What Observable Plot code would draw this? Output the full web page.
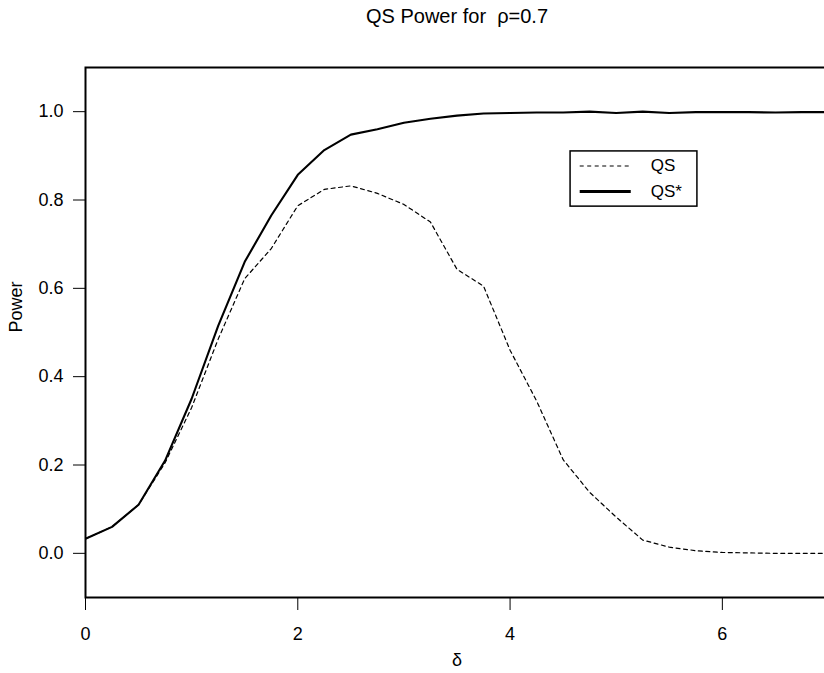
<!DOCTYPE html>
<html>
<head>
<meta charset="utf-8">
<script src="https://cdn.jsdelivr.net/npm/d3@7"></script>
<script src="https://cdn.jsdelivr.net/npm/@observablehq/plot@0.6"></script>
<style>
  html, body { margin: 0; padding: 0; background: white; overflow: hidden; }
  #chart svg { display: block; }
</style>
</head>
<body>
<div id="chart"></div>
<script>
// ---- data ----
const delta = [0, 0.25, 0.5, 0.75, 1, 1.25, 1.5, 1.75, 2, 2.25, 2.5, 2.75, 3, 3.25, 3.5,
               3.75, 4, 4.25, 4.5, 4.75, 5, 5.25, 5.5, 5.75, 6, 6.25, 6.5, 6.75, 7];
const qs = [0.033, 0.06, 0.11, 0.205, 0.33, 0.485, 0.622, 0.69, 0.787, 0.824, 0.832, 0.815,
            0.79, 0.75, 0.643, 0.605, 0.46, 0.345, 0.212, 0.138, 0.082, 0.03, 0.014, 0.006,
            0.002, 0.001, 0, 0, 0];
const qsStar = [0.033, 0.06, 0.11, 0.21, 0.35, 0.515, 0.66, 0.765, 0.857, 0.913, 0.948, 0.96,
                0.975, 0.984, 0.991, 0.996, 0.997, 0.998, 0.998, 1.0, 0.997, 1.0, 0.997, 0.999,
                0.999, 0.999, 0.998, 0.999, 0.999];
const seriesNames = ["QS", "QS*"];
const xTicks = [0, 2, 4, 6];
const yTicks = [0, 0.2, 0.4, 0.6, 0.8, 1.0];
const titleText = "QS Power for\u00a0 \u03c1=0.7";
const xLabel = "\u03b4";
const yLabel = "Power";

// table built from the arrays
const rowsQS = delta.map((d, i) => ({x: d, y: qs[i]}));
const rowsQSStar = delta.map((d, i) => ({x: d, y: qsStar[i]}));

// legend placement (data coordinates, like R's legend(x, y))
const legBox = [{x1: 4.57, x2: 5.765, y1: 0.785, y2: 0.91}];
const legRows = [
  {name: seriesNames[0], y: 0.877, dash: "4,3.5", w: 1.2},
  {name: seriesNames[1], y: 0.819, dash: null, w: 3}
];
const legX1 = 4.656, legX2 = 5.137, legTextX = 5.325;

const font = "'Liberation Sans', Arial, Helvetica, sans-serif";

const chart = Plot.plot({
  width: 824,
  height: 673,
  marginLeft: 85,
  marginRight: -4,
  marginTop: 67,
  marginBottom: 76,
  style: {fontFamily: font, fontSize: "18px", background: "white", color: "black", overflow: "hidden"},
  x: {domain: [0, 7], range: [85, 828]},
  y: {domain: [-0.1, 1.1], range: [597, 67]},
  marks: [
    Plot.axisY({ticks: yTicks, tickFormat: d3.format(".1f"), tickSize: 12, tickPadding: 10,
                fontSize: 18, label: null, stroke: "black", strokeWidth: 1}),
    Plot.axisX({ticks: xTicks, tickFormat: d3.format("d"), tickSize: 13, tickPadding: 17,
                fontSize: 18, label: null, stroke: "black", strokeWidth: 1}),
    Plot.lineY(rowsQS, {x: "x", y: "y", stroke: "black", strokeWidth: 1.2,
                        strokeDasharray: "4,3.5", clip: true}),
    Plot.lineY(rowsQSStar, {x: "x", y: "y", stroke: "black", strokeWidth: 2.1, clip: true}),
    Plot.frame({stroke: "black", strokeWidth: 2}),
    // legend
    Plot.rect(legBox, {x1: "x1", x2: "x2", y1: "y1", y2: "y2", fill: "white",
                       stroke: "black", strokeWidth: 1.5}),
    Plot.link([legRows[0]], {x1: () => legX1, x2: () => legX2, y1: "y", y2: "y",
                             stroke: "black", strokeWidth: 1.2, strokeDasharray: "4,3.5"}),
    Plot.link([legRows[1]], {x1: () => legX1, x2: () => legX2, y1: "y", y2: "y",
                             stroke: "black", strokeWidth: 3}),
    Plot.text(legRows, {x: () => legTextX, y: "y", text: "name", textAnchor: "start",
                        lineAnchor: "middle", fontSize: 17, fill: "black"}),
    // title and axis labels
    Plot.text([titleText], {text: d => d, frameAnchor: "top", lineAnchor: "bottom",
                            dy: -45, fontSize: 20, fill: "black"}),
    Plot.text([xLabel], {text: d => d, frameAnchor: "bottom", lineAnchor: "bottom",
                         dy: 68, fontSize: 18, fill: "black"}),
    Plot.text([yLabel], {text: d => d, frameAnchor: "left", rotate: -90, lineAnchor: "middle",
                         dx: -69, fontSize: 18, fill: "black"})
  ]
});
document.getElementById("chart").appendChild(chart);
</script>
</body>
</html>
